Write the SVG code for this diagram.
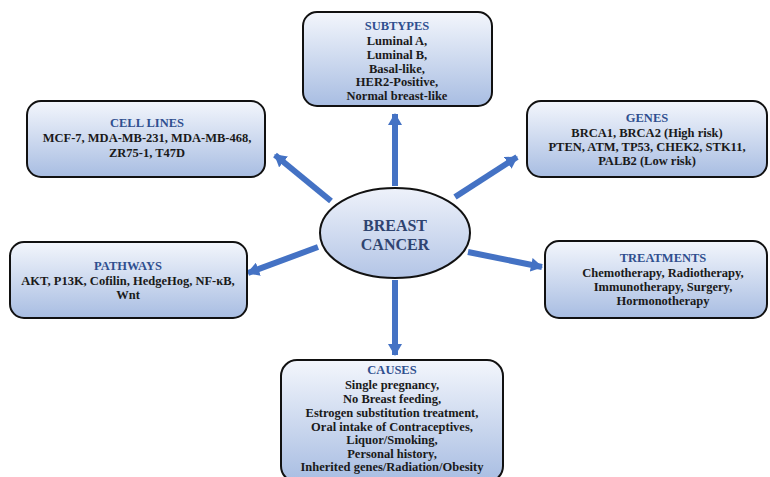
<svg xmlns="http://www.w3.org/2000/svg" width="770" height="477" viewBox="0 0 770 477">
<defs>
<linearGradient id="g" x1="0" y1="0" x2="0" y2="1">
<stop offset="0" stop-color="#f3f6fc"/>
<stop offset="1" stop-color="#a8bde2"/>
</linearGradient>
<linearGradient id="ge" x1="0" y1="0" x2="0" y2="1">
<stop offset="0" stop-color="#eef2fa"/>
<stop offset="1" stop-color="#b3c5e6"/>
</linearGradient>
<marker id="ah" viewBox="0 0 12 14" refX="11" refY="7" markerWidth="12" markerHeight="14" markerUnits="userSpaceOnUse" orient="auto">
<path d="M0,0 L12,7 L0,14 Z" fill="#4472c4"/>
</marker>
</defs>
<style>
.box{fill:url(#g);stroke:#111;stroke-width:2}
.t{font-family:"Liberation Serif","Times New Roman",serif;font-weight:bold;font-size:12.5px;text-anchor:middle;fill:#1a1a1a}
.h{fill:#2f4f8f}
.c{stroke:#4472c4;stroke-width:6;fill:none;marker-end:url(#ah)}
</style>
<rect width="770" height="477" fill="#fff"/>
<g id="connectors">
<line class="c" x1="395" y1="186" x2="395" y2="114"/>
<line class="c" x1="395" y1="280" x2="395" y2="355"/>
<line class="c" x1="331" y1="201" x2="275" y2="155"/>
<line class="c" x1="455" y1="197" x2="517" y2="157"/>
<line class="c" x1="318" y1="247" x2="248" y2="273"/>
<line class="c" x1="468" y1="252" x2="542" y2="267"/>
</g>
<g id="center">
<ellipse cx="395" cy="233" rx="75" ry="45" fill="url(#ge)" stroke="#111" stroke-width="2"/>
<text class="t" x="395" y="231" style="font-size:16px;fill:#2f4470">BREAST</text>
<text class="t" x="395" y="250" style="font-size:16px;fill:#2f4470">CANCER</text>
</g>
<g id="subtypes">
<rect class="box" x="303" y="12" width="189" height="94" rx="14"/>
<text class="t h" x="397" y="30">SUBTYPES</text>
<text class="t" x="397" y="45">Luminal  A,</text>
<text class="t" x="397" y="59">Luminal  B,</text>
<text class="t" x="397" y="73">Basal-like,</text>
<text class="t" x="397" y="86">HER2-Positive,</text>
<text class="t" x="397" y="100">Normal breast-like</text>
</g>
<g id="cell-lines">
<rect class="box" x="27" y="101" width="238" height="76" rx="14"/>
<text class="t h" x="147" y="127">CELL LINES</text>
<text class="t" x="147" y="142">MCF-7, MDA-MB-231, MDA-MB-468,</text>
<text class="t" x="147" y="157">ZR75-1, T47D</text>
</g>
<g id="genes">
<rect class="box" x="527" y="101" width="240" height="76" rx="14"/>
<text class="t h" x="647" y="122">GENES</text>
<text class="t" x="647" y="137">BRCA1, BRCA2 (High  risk)</text>
<text class="t" x="647" y="151">PTEN, ATM, TP53, CHEK2, STK11,</text>
<text class="t" x="647" y="165">PALB2 (Low  risk)</text>
</g>
<g id="pathways">
<rect class="box" x="10" y="242" width="237" height="76" rx="14"/>
<text class="t h" x="128" y="270">PATHWAYS</text>
<text class="t" x="128" y="285">AKT, P13K, Cofilin,  HedgeHog, NF-κB,</text>
<text class="t" x="128" y="299">Wnt</text>
</g>
<g id="treatments">
<rect class="box" x="545" y="241" width="222" height="77" rx="14"/>
<text class="t h" x="663" y="262">TREATMENTS</text>
<text class="t" x="663" y="277">Chemotherapy,  Radiotherapy,</text>
<text class="t" x="663" y="291">Immunotherapy,  Surgery,</text>
<text class="t" x="663" y="305">Hormonotherapy</text>
</g>
<g id="causes">
<rect class="box" x="281" y="360" width="222" height="122" rx="16"/>
<text class="t h" x="392" y="374">CAUSES</text>
<text class="t" x="392" y="389">Single pregnancy,</text>
<text class="t" x="392" y="403">No Breast feeding,</text>
<text class="t" x="392" y="417">Estrogen substitution  treatment,</text>
<text class="t" x="392" y="431">Oral intake of Contraceptives,</text>
<text class="t" x="392" y="444">Liquor/Smoking,</text>
<text class="t" x="392" y="458">Personal history,</text>
<text class="t" x="392" y="471">Inherited  genes/Radiation/Obesity</text>
</g>
</svg>
